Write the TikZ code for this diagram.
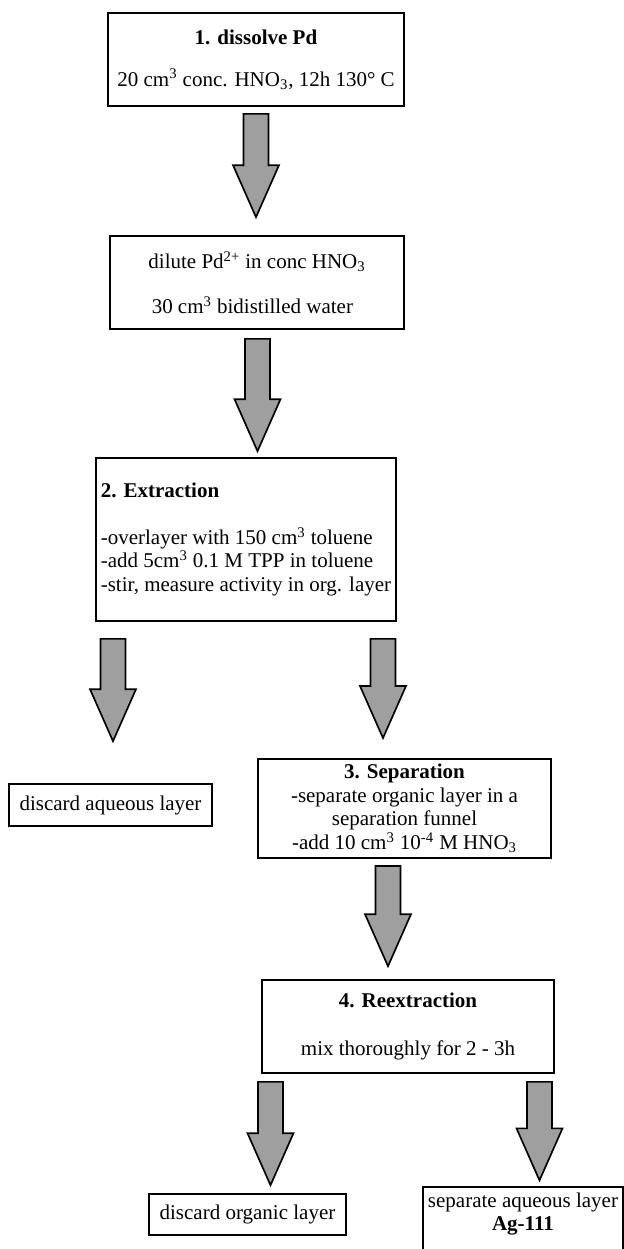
\documentclass[tikz,border=0pt]{standalone}
\usepackage{fontspec}
\setmainfont{Liberation Serif}
\usepackage{tikz}
\usetikzlibrary{calc}

\begin{document}
\begin{tikzpicture}[
    x=0.6pt,
    y=-0.6pt,
    every node/.style={font=\fontsize{12.6}{14.1}\selectfont},
    stepbox/.style={draw, line width=1pt, inner xsep=3pt},
    fat/.style={draw, fill=gray!75, line width=1pt, line join=miter,
        to path={let \p1=(\tikztostart), \p2=(\tikztotarget) in
            (\x1-7.5pt,\y1) -- (\x1+7.5pt,\y1) -- (\x1+7.5pt,\y2+31.2pt)
            -- (\x1+13.8pt,\y2+31.2pt) -- (\x1,\y2) -- (\x1-13.8pt,\y2+31.2pt)
            -- (\x1-7.5pt,\y2+31.2pt) -- cycle}}
]
\useasboundingbox (0,0) rectangle (623,1249);

% Steps
\node[stepbox, minimum width=177.6pt, minimum height=55.8pt, align=center] (b1) at (256,59.5)
    {\textbf{1. dissolve Pd}\\[11pt]20 cm\textsuperscript{3} conc. HNO\textsubscript{3}, 12h 130° C};
\node[stepbox, minimum width=176.4pt, minimum height=55.8pt, align=left] (b2) at (257,282.5)
    {dilute Pd\textsuperscript{2+} in conc HNO\textsubscript{3}\\[13pt]\hspace{2pt}30 cm\textsuperscript{3} bidistilled water};
\node[stepbox, minimum width=176.4pt, minimum height=97.8pt, align=left] (b3) at (246,539.5)
    {\textbf{2. Extraction}\\[14pt]-overlayer with 150 cm\textsuperscript{3} toluene\\
     -add 5cm\textsuperscript{3} 0.1 M TPP in toluene\\-stir, measure activity in org. layer};
\node[stepbox, minimum width=121.8pt, minimum height=25.2pt] (da) at (110.5,805) {discard aqueous layer};
\node[stepbox, minimum width=175.8pt, minimum height=55.8pt, align=center] (sep) at (404.5,808.5)
    {\textbf{3. Separation}\\-separate organic layer in a\\separation funnel\\
     -add 10 cm\textsuperscript{3} 10\textsuperscript{-4} M HNO\textsubscript{3}};
\node[stepbox, minimum width=175.2pt, minimum height=55.8pt, align=center] (re) at (408,1026.5)
    {\textbf{4. Reextraction}\\[14.8pt]mix thoroughly for 2 - 3h};
\node[stepbox, minimum width=118.2pt, minimum height=24.6pt] (do) at (247.5,1214.5) {discard organic layer};
\node[stepbox, minimum width=118.8pt, minimum height=43.8pt, align=center] (sa) at (523,1228.5)
    {separate aqueous layer\\\textbf{Ag-111}\\[6pt]};

% Arrows
\draw[fat] ([yshift=-4.2pt]b1.south) to ([yshift=10.8pt]b2.north);
\draw[fat] ([xshift=0.3pt, yshift=-5.4pt]b2.south) to ([yshift=3.6pt]b3.north);
\draw[fat] ([xshift=-79.8pt, yshift=-10.2pt]b3.south) to ([yshift=25.2pt]da.north);
\draw[fat] ([xshift=82.2pt, yshift=-10.2pt]b3.south) to ([yshift=12pt]sep.north);
\draw[fat] ([xshift=-9.9pt, yshift=-4.2pt]sep.south) to ([yshift=7.8pt]re.north);
\draw[fat] ([xshift=-82.5pt, yshift=-4.8pt]re.south) to ([yshift=4.8pt]do.north);
\draw[fat] ([xshift=78.9pt, yshift=-4.8pt]re.south) to ([yshift=3.6pt]sa.north);

\end{tikzpicture}
\end{document}
